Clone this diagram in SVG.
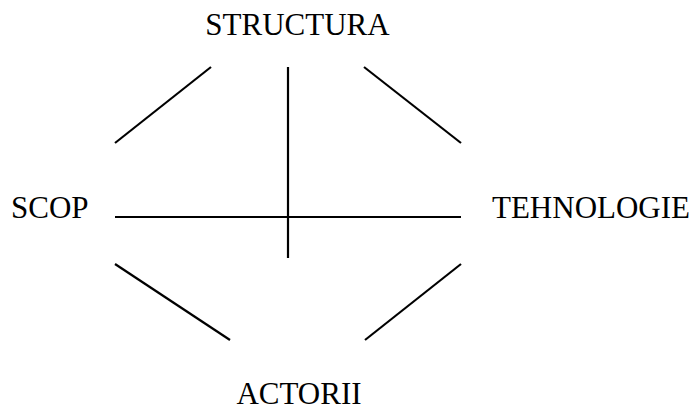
<svg xmlns="http://www.w3.org/2000/svg" width="694" height="413" viewBox="0 0 694 413">
<style>
text{font-family:"Liberation Serif","Times New Roman",serif;font-size:31px;fill:#000}
.c line{stroke:#000;stroke-width:2.2;fill:none}
</style>
<rect width="694" height="413" fill="#fff"/>
<g id="structura"><text x="297.5" y="35" text-anchor="middle">STRUCTURA</text></g>
<g id="scop"><text x="11" y="218">SCOP</text></g>
<g id="tehnologie"><text x="492" y="218">TEHNOLOGIE</text></g>
<g id="actorii"><text x="299" y="404" text-anchor="middle">ACTORII</text></g>
<g class="c" id="connectors">
<line x1="115" y1="143" x2="211" y2="67"/>
<line x1="364" y1="67" x2="461" y2="143"/>
<line x1="115" y1="264" x2="230" y2="340"/>
<line x1="365" y1="340" x2="461" y2="264"/>
<line x1="288" y1="67" x2="288" y2="258"/>
<line x1="115" y1="217" x2="461" y2="217"/>
</g>
</svg>
